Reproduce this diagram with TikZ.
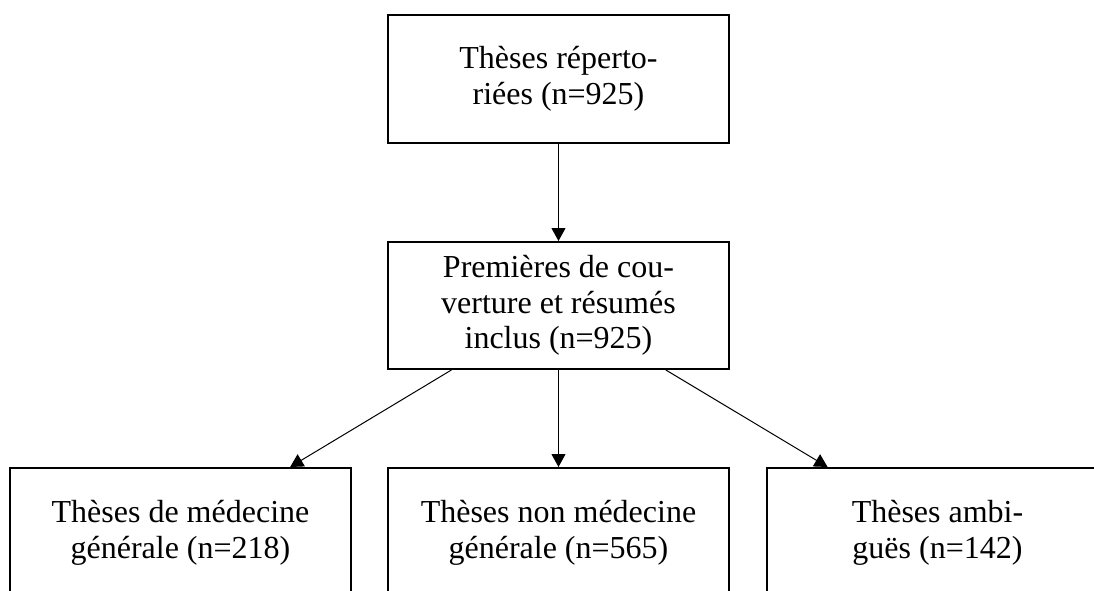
\documentclass[tikz,border=0pt]{standalone}
\usepackage{fontspec}
\setmainfont{Liberation Serif}
\usetikzlibrary{arrows.meta}
\tikzset{boite/.style={
    draw, line width=1pt,
    minimum width=170.5pt, minimum height=64pt,
    inner sep=0pt, align=center,
    font=\fontsize{16}{17.75}\selectfont
  },
  fleche/.style={-{Triangle[width=7pt,length=6.5pt]}, line width=0.5pt}
}

\begin{document}
\begin{tikzpicture}[x=0.5pt,y=-0.5pt]
  \useasboundingbox (0,0) rectangle (1094,590);
  \node[boite] (repertoriees) at (558.5,79) {Thèses réperto-\\riées (n=925)};
  \node[boite, minimum height=63.5pt] (inclus) at (558.5,305.5) {Premières de cou-\\verture et résumés\\inclus (n=925)};
  \node[boite, minimum height=65pt] (mg) at (180.5,533) {Thèses de médecine\\générale (n=218)};
  \node[boite, minimum height=65pt] (nonmg) at (558.5,533) {Thèses non médecine\\générale (n=565)};
  \node[boite, minimum height=65pt] (ambigues) at (937.5,533) {Thèses ambi-\\guës (n=142)};
  \draw[fleche] (repertoriees) -- (inclus);
  \draw[fleche] (inclus) -- (mg);
  \draw[fleche] (inclus) -- (nonmg);
  \draw[fleche] (inclus) -- (ambigues);
\end{tikzpicture}
\end{document}
